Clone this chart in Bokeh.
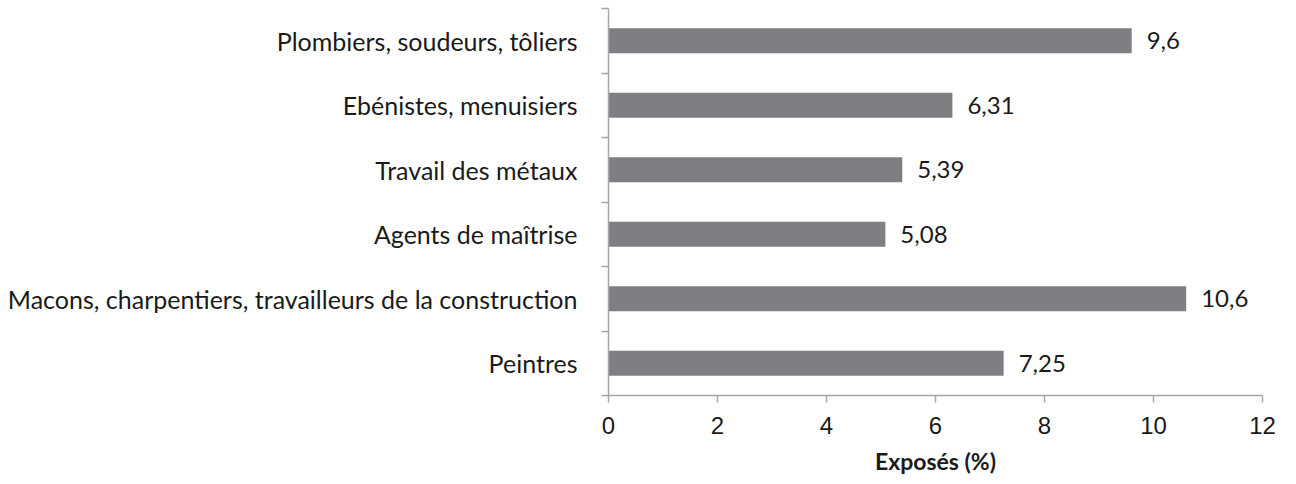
from bokeh.plotting import figure
from bokeh.models import Range1d, FixedTicker, ColumnDataSource
from bokeh.embed import file_html
from bokeh.resources import INLINE
from bokeh.core.properties import value

# Data (bottom to top)
categories = ["Peintres",
              "Macons, charpentiers, travailleurs de la construction",
              "Agents de maîtrise",
              "Travail des métaux",
              "Ebénistes, menuisiers",
              "Plombiers, soudeurs, tôliers"]
values = [7.25, 10.6, 5.08, 5.39, 6.31, 9.6]
x_ticks = [0, 2, 4, 6, 8, 10, 12]
x_label = "Exposés (%)"

pos = [i + 0.5 for i in range(len(categories))]
labels = [f"{v:g}".replace(".", ",") for v in values]
src = ColumnDataSource(dict(y=pos, v=values, lab=labels))

FONT = "Lato"

p = figure(width=1290, height=476, frame_width=654, frame_height=387,
           x_range=Range1d(0, 12), y_range=Range1d(0, len(categories)),
           output_backend="svg", toolbar_location=None,
           min_border_left=608, min_border_top=8, min_border_right=28,
           min_border_bottom=60)
p.outline_line_color = None
p.grid.visible = False

p.hbar(y="y", right="v", left=0, height=0.39, source=src,
       fill_color="#7f7f83", line_color=None)
p.text(x="v", y="y", text="lab", source=src, x_offset=15,
       text_baseline="middle", text_align="left",
       text_font=value(FONT), text_font_size="24px",
       text_color="#1a1a1a")

axis_col = "#a6a6a6"
# x axis
xa = p.xaxis[0]
xa.ticker = FixedTicker(ticks=x_ticks, minor_ticks=[])
xa.axis_line_color = axis_col
xa.axis_line_width = 1.5
xa.major_tick_line_color = axis_col
xa.major_tick_line_width = 1.5
xa.major_tick_in = 0
xa.major_tick_out = 7
xa.minor_tick_line_color = None
xa.major_label_text_font = "Liberation Sans"
xa.major_label_text_font_size = "24px"
xa.major_label_text_color = "#1a1a1a"
xa.major_label_standoff = 14
xa.axis_label = x_label
xa.axis_label_text_font = FONT
xa.axis_label_text_font_style = "bold"
xa.axis_label_text_font_size = "23px"
xa.axis_label_text_color = "#1a1a1a"
xa.axis_label_standoff = 10

# y axis: labels at centers, ticks at category boundaries
ya = p.yaxis[0]
ya.ticker = FixedTicker(ticks=pos, minor_ticks=list(range(len(categories) + 1)))
ya.major_label_overrides = {pp: c for pp, c in zip(pos, categories)}
ya.axis_line_color = axis_col
ya.axis_line_width = 1.5
ya.major_tick_line_color = None
ya.major_tick_in = 0
ya.major_tick_out = 0
ya.minor_tick_line_color = axis_col
ya.minor_tick_line_width = 1.5
ya.minor_tick_in = 0
ya.minor_tick_out = 7
ya.major_label_text_font = FONT
ya.major_label_text_font_size = "25px"
ya.major_label_text_color = "#1a1a1a"
ya.major_label_standoff = 24

open("out.html", "w").write(file_html(p, INLINE))
